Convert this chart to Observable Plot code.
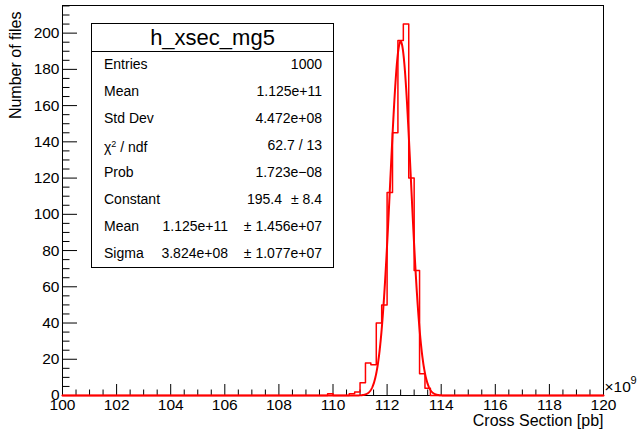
<!DOCTYPE html>
<html><head><meta charset="utf-8">
<script src="https://cdn.jsdelivr.net/npm/d3@7"></script>
<script src="https://cdn.jsdelivr.net/npm/@observablehq/plot@0.6"></script>
<style>
body{margin:0;background:#fff;}
#wrap{position:relative;width:638px;height:430px;font-family:"Liberation Sans",Arial,Helvetica,sans-serif;color:#000;}
#stats{position:absolute;left:91px;top:23px;width:243px;height:245px;border:1px solid #000;background:#fff;box-sizing:border-box;}
#stats .title{position:absolute;left:0;right:0;top:0;height:27px;border-bottom:1px solid #000;text-align:center;font-size:22px;line-height:27px;}
#stats .t{position:absolute;font-size:14px;line-height:14px;white-space:nowrap;transform:translateY(-50%);}
</style></head><body><div id="wrap"></div>
<script>
// Histogram h_xsec_mg5 : x in units of 1e9 pb, 100 bins from 100 to 120
const xMin = 100, xMax = 120, nBins = 100;
const binStarts = [109.8, 110.6, 110.8, 111.0, 111.2, 111.4, 111.6, 111.8, 112.0, 112.2, 112.4, 112.6, 112.8, 113.0, 113.2, 113.4];
const binCounts = [1, 1, 2, 7, 18, 17, 40, 50, 112, 145, 196, 205, 120, 69, 12, 4];
// Gaussian fit parameters (from stats box)
const fitConstant = 195.4, fitMean = 112.5, fitSigma = 0.3824;
// axis ticks
const xMajor = [100, 102, 104, 106, 108, 110, 112, 114, 116, 118, 120];
const yMajor = [0, 20, 40, 60, 80, 100, 120, 140, 160, 180, 200];
// stats box text
const statsTitle = "h_xsec_mg5";
const statsRows = [
  {label: "Entries", value: "1000"},
  {label: "Mean", value: "1.125e+11"},
  {label: "Std Dev", value: "4.472e+08"},
  {label: "χ<sup style='font-size:9px;vertical-align:5px'>2</sup> / ndf", value: "62.7 / 13"},
  {label: "Prob", value: "1.723e\u221208"},
  {label: "Constant", mid: "195.4", err: "\u00b1 8.4", midRight: 51},
  {label: "Mean", mid: "1.125e+11", err: "\u00b1 1.456e+07", midRight: 105},
  {label: "Sigma", mid: "3.824e+08", err: "\u00b1 1.077e+07", midRight: 105}
];

const binWidth = (xMax - xMin) / nBins;
const counts = new Array(nBins).fill(0);
binStarts.forEach((s, i) => { counts[Math.round((s - xMin) / binWidth)] = binCounts[i]; });
const histPts = counts.map((c, i) => ({x: xMin + i * binWidth, y: c}));
histPts.push({x: xMax, y: counts[nBins - 1]});
const yMax = d3.max(binCounts) * 1.05;

const fitPts = d3.range(0, 2001).map(i => {
  const x = xMin + i * (xMax - xMin) / 2000;
  return {x, y: fitConstant * Math.exp(-0.5 * ((x - fitMean) / fitSigma) ** 2)};
});

const xMinor = d3.range(xMin, xMax + 1e-9, 0.5).filter(v => Math.abs(v / 2 - Math.round(v / 2)) > 1e-6);
const yMinor = d3.range(0, yMax, 5).filter(v => v % 20 !== 0);

const W = 638, H = 430, mL = 62, mR = 35, mT = 5, mB = 35;
const fh = H - mT - mB, fw = W - mL - mR;

const plot = Plot.plot({
  width: W, height: H, marginLeft: mL, marginRight: mR, marginTop: mT, marginBottom: mB,
  style: {fontFamily: "'Liberation Sans', Arial, Helvetica, sans-serif", fontSize: "15px", color: "#000", background: "#fff", overflow: "visible"},
  x: {domain: [xMin, xMax]},
  y: {domain: [0, yMax]},
  marks: [
    Plot.frame({stroke: "#000", strokeWidth: 1}),
    Plot.tickX(xMajor, {insetTop: fh - 11, stroke: "#000"}),
    Plot.tickX(xMinor, {insetTop: fh - 5.5, stroke: "#000"}),
    Plot.tickY(yMajor, {insetRight: fw - 15, stroke: "#000"}),
    Plot.tickY(yMinor, {insetRight: fw - 7.5, stroke: "#000"}),
    Plot.axisX(xMajor, {tickSize: 0, tickPadding: 3, label: null, fontSize: 15.5}),
    Plot.axisY(yMajor, {tickSize: 0, tickPadding: 3, label: null, fontSize: 15.5}),
    Plot.line(histPts, {x: "x", y: "y", curve: "step-after", stroke: "#ff0000", strokeWidth: 1.5}),
    Plot.line(fitPts, {x: "x", y: "y", stroke: "#ff0000", strokeWidth: 2}),
    Plot.text(["Cross Section [pb]"], {frameAnchor: "bottom-right", textAnchor: "end", lineAnchor: "middle", dy: 25, fontSize: 16}),
    Plot.text(["Number of files"], {frameAnchor: "top-left", textAnchor: "end", lineAnchor: "middle", rotate: -90, dx: -47, dy: 6, fontSize: 16}),
    Plot.text(["\u00d710"], {frameAnchor: "bottom-right", textAnchor: "start", lineAnchor: "middle", dx: 1, dy: -8, fontSize: 15.5}),
    Plot.text(["9"], {frameAnchor: "bottom-right", textAnchor: "start", lineAnchor: "middle", dx: 27, dy: -15, fontSize: 11})
  ]
});
const wrap = document.getElementById("wrap");
wrap.appendChild(plot);

const box = document.createElement("div");
box.id = "stats";
let html = `<div class="title">${statsTitle}</div>`;
const rowH = 27.1;
statsRows.forEach((r, k) => {
  const cy = rowH * (k + 1.5) - 1;
  html += `<div class="t" style="left:12px;top:${cy}px">${r.label}</div>`;
  if (r.value !== undefined) {
    html += `<div class="t" style="right:11px;top:${cy}px">${r.value}</div>`;
  } else {
    html += `<div class="t" style="right:${r.midRight}px;top:${cy}px">${r.mid}</div>`;
    html += `<div class="t" style="right:11px;top:${cy}px">${r.err}</div>`;
  }
});
box.innerHTML = html;
wrap.appendChild(box);
</script></body></html>
